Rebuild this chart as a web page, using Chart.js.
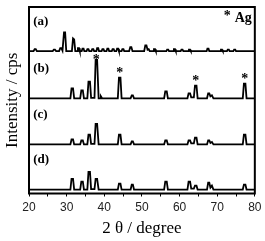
<!DOCTYPE html>
<html>
<head>
<meta charset="utf-8">
<script src="https://cdn.jsdelivr.net/npm/chart.js@4.4.1/dist/chart.umd.min.js"></script>
<style>
  html, body { margin: 0; padding: 0; background: #fff; }
  canvas { display: block; }
</style>
</head>
<body>
<canvas id="xrdChart" width="265" height="241"></canvas>
<script>
// XRD patterns: [2 theta, intensity above own baseline]
const patternA = [
  [20, 0],
  [21.2, 0], [21.5, 2], [21.8, 2], [22.1, 0],
  [26.3, 0], [26.6, 1.5], [26.9, 1.5], [27.2, 0],
  [28.0, 0], [28.3, 3], [28.6, 3], [28.9, 0.5],
  [29.0, 0.5], [29.3, 19], [29.6, 19], [29.9, 0],
  [31.4, 0], [31.7, 13], [32.0, 12], [32.3, 0],
  [32.8, 0], [33.0, 3], [33.3, 3], [33.5, 0],
  [34.0, 0], [34.2, 2.5], [34.5, 2.5], [34.7, 0],
  [35.3, 0], [35.5, 2], [35.8, 2], [36.0, 0],
  [36.6, 0], [36.8, 2], [37.1, 2], [37.3, 0],
  [37.9, 0], [38.1, 3], [38.4, 3], [38.6, 0],
  [39.3, 0], [39.5, 2], [39.8, 2], [40.0, 0],
  [40.6, 0], [40.8, 2.5], [41.1, 2.5], [41.3, 0],
  [42.0, 0], [42.2, 2], [42.5, 2], [42.7, 0],
  [43.2, 0], [43.4, 2.5], [43.7, 2.5], [43.9, 0],
  [44.6, 0], [44.8, 2], [45.1, 2], [45.3, 0],
  [46.6, 0], [46.9, 4], [47.2, 4], [47.5, 0],
  [50.6, 0], [50.9, 6], [51.2, 6], [51.5, 1.5], [51.8, 2], [52.1, 0],
  [53.0, 0], [53.2, 2], [53.5, 2], [53.7, 0],
  [56.5, 0], [56.7, 1.5], [57.0, 1.5], [57.2, 0],
  [58.3, 0], [58.5, 2], [58.8, 2], [59.0, 0],
  [60.3, 0], [60.5, 1.5], [60.8, 1.5], [61.0, 0],
  [62.3, 0], [62.5, 1.5], [62.8, 1.5], [63.0, 0],
  [67.2, 0], [67.4, 2.5], [67.7, 2.5], [67.9, 0],
  [70.8, 0], [71.0, 1.5], [71.3, 1.5], [71.5, 0],
  [72.6, 0], [72.8, 1.5], [73.1, 1.5], [73.3, 0],
  [74.3, 0], [74.5, 1.5], [74.8, 1.5], [75.0, 0],
  [80, 0],
];

const patternB = [
  [20, 0],
  [31.0, 0], [31.3, 10], [31.7, 10], [32.0, 0],
  [33.6, 0], [33.9, 8], [34.3, 8], [34.6, 0],
  [35.5, 0], [35.8, 17], [36.2, 17], [36.5, 0.5],
  [37.4, 0.5], [37.7, 39], [38.1, 39], [38.5, 0],
  [38.9, 0], [39.1, 2], [39.4, 0],
  [43.6, 0], [43.9, 21], [44.3, 21], [44.6, 0],
  [47.0, 0], [47.3, 3], [47.6, 3], [47.9, 0],
  [55.9, 0], [56.2, 7], [56.6, 7], [56.9, 0],
  [62.1, 0], [62.4, 5], [62.8, 5], [63.1, 1],
  [63.8, 1], [64.1, 13], [64.5, 13], [64.8, 0],
  [67.3, 0], [67.6, 5], [67.9, 5], [68.2, 2], [68.6, 3], [69.0, 0],
  [76.8, 0], [77.1, 15], [77.5, 15], [77.8, 0],
  [80, 0],
];

const patternC = [
  [20, 0],
  [31.0, 0], [31.3, 5], [31.7, 5], [32.0, 0],
  [33.6, 0], [33.9, 4], [34.3, 4], [34.6, 0],
  [35.5, 0], [35.8, 10], [36.2, 10], [36.5, 0.5],
  [37.4, 0.5], [37.7, 21], [38.1, 21], [38.5, 0],
  [43.6, 0], [43.9, 10], [44.3, 10], [44.6, 0],
  [47.0, 0], [47.3, 3], [47.6, 3], [47.9, 0],
  [55.9, 0], [56.2, 4], [56.6, 4], [56.9, 0],
  [62.1, 0], [62.4, 4], [62.8, 4], [63.1, 1],
  [63.8, 1], [64.1, 7], [64.5, 7], [64.8, 0],
  [67.3, 0], [67.6, 4], [67.9, 4], [68.2, 1.5], [68.6, 2.5], [69.0, 0],
  [76.8, 0], [77.1, 10], [77.5, 10], [77.8, 0],
  [80, 0],
];

const patternD = [
  [20, 0],
  [31.0, 0], [31.3, 11], [31.7, 11], [32.0, 0],
  [33.6, 0], [33.9, 8], [34.3, 8], [34.6, 0],
  [35.5, 0], [35.8, 18], [36.2, 18], [36.5, 0.5],
  [37.4, 0.5], [37.7, 11], [38.1, 11], [38.5, 0],
  [43.6, 0], [43.9, 6], [44.3, 6], [44.6, 0],
  [47.0, 0], [47.3, 5], [47.6, 5], [47.9, 0],
  [55.9, 0], [56.2, 8], [56.6, 8], [56.9, 0],
  [62.1, 0], [62.4, 8], [62.8, 8], [63.1, 1],
  [63.8, 1], [64.1, 4], [64.5, 4], [64.8, 0],
  [67.3, 0], [67.6, 7], [67.9, 7], [68.2, 2], [68.6, 4], [69.0, 0],
  [76.8, 0], [77.1, 5], [77.5, 5], [77.8, 0],
  [80, 0],
];

const patterns = [patternA, patternB, patternC, patternD];
const panelLabels = ["(a)", "(b)", "(c)", "(d)"];
const baselines = [145, 97, 50, 4];
// Ag reflections marked with * on pattern (b)
const agPeaks = [[37.9, 39], [44.1, 21], [64.3, 13], [77.3, 15]];

const serif = "'Liberation Serif', 'Times New Roman', serif";

const annotationsPlugin = {
  id: "annotationsPlugin",
  afterDatasetsDraw(chart) {
    const { ctx, scales: { x, y } } = chart;
    ctx.save();
    ctx.fillStyle = "#000";
    ctx.font = `bold 13px ${serif}`;
    ctx.textAlign = "left";
    ctx.textBaseline = "middle";
    panelLabels.forEach((label, i) => {
      ctx.fillText(label, x.getPixelForValue(21.1), y.getPixelForValue(baselines[i] + 30));
    });

    ctx.textAlign = "center";
    ctx.textBaseline = "alphabetic";
    ctx.font = `bold 14px ${serif}`;
    // the tallest peak nearly reaches pattern (a), so the star sits on its tip there
    const lowestStar = y.getPixelForValue(baselines[0]) + 13;
    agPeaks.forEach(([pos, h]) => {
      const starY = Math.max(y.getPixelForValue(baselines[1] + h) - 1, lowestStar);
      ctx.fillText("*", x.getPixelForValue(pos), starY);
    });

    // legend in the top right corner
    const { right, top } = chart.chartArea;
    ctx.textAlign = "right";
    ctx.fillText("Ag", right - 3, top + 15);
    ctx.fillText("*", right - 24, top + 13);
    ctx.restore();
  },
  afterDraw(chart) {
    const { ctx, chartArea } = chart;
    ctx.save();
    ctx.strokeStyle = "#000";
    ctx.lineWidth = 2;
    ctx.strokeRect(chartArea.left, chartArea.top, chartArea.right - chartArea.left, chartArea.bottom - chartArea.top);
    ctx.restore();
  },
};

new Chart(document.getElementById("xrdChart"), {
  type: "scatter",
  data: {
    datasets: patterns.map((pattern, i) => ({
      label: panelLabels[i],
      data: pattern.map(([tt, val]) => ({ x: tt, y: val + baselines[i] })),
      showLine: true,
      borderColor: "#000",
      borderWidth: 1.8,
      pointRadius: 0,
      tension: 0,
    })),
  },
  options: {
    responsive: false,
    animation: false,
    layout: { padding: { left: 0, right: 9, top: 7, bottom: 0 } },
    plugins: { legend: { display: false }, tooltip: { enabled: false } },
    scales: {
      x: {
        type: "linear",
        min: 20,
        max: 80,
        border: { display: false },
        grid: { drawOnChartArea: false, color: "#000", tickLength: 3, lineWidth: 1 },
        ticks: {
          stepSize: 5,
          padding: 3.5,
          maxRotation: 0,
          minRotation: 0,
          autoSkip: false,
          color: "#222",
          font: { family: "'Liberation Sans', Arial, sans-serif", size: 12 },
          callback: (value) => (value % 10 === 0 ? value : ""),
        },
        title: {
          display: true,
          text: "2 θ / degree",
          color: "#000",
          font: { family: serif, size: 17 },
          padding: { top: 0, bottom: 2.7 },
        },
      },
      y: {
        min: 0,
        max: 190,
        border: { display: false },
        grid: { display: false, drawTicks: false },
        ticks: { display: false },
        title: {
          display: true,
          text: "Intensity / cps",
          color: "#000",
          font: { family: serif, size: 17 },
          padding: { top: 2, bottom: 6.6 },
        },
      },
    },
  },
  plugins: [annotationsPlugin],
});
</script>
</body>
</html>
